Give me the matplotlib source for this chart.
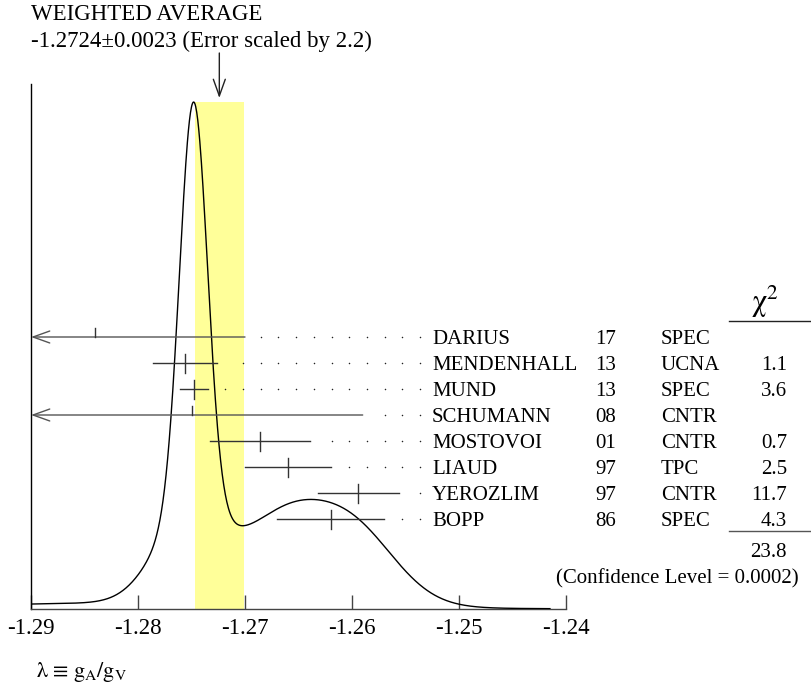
import numpy as np
import matplotlib.pyplot as plt
from matplotlib.lines import Line2D

plt.rcParams['font.family'] = ['Liberation Serif', 'DejaVu Serif']
plt.rcParams['mathtext.fontset'] = 'stix'

# mesures
names = ["DARIUS", "MENDENHALL", "MUND", "SCHUMANN", "MOSTOVOI", "LIAUD", "YEROZLIM", "BOPP"]
years = ["17", "13", "13", "08", "01", "97", "97", "86"]
techs = ["SPEC", "UCNA", "SPEC", "CNTR", "CNTR", "TPC", "CNTR", "SPEC"]
values = [-1.2840, -1.2756, -1.2748, -1.2750, -1.2686, -1.2660, -1.2594, -1.2620]
errors = [0.0140, 0.0030, 0.0013, 0.0160, 0.0047, 0.0040, 0.0038, 0.0050]
chi2 = ["", "1.1", "3.6", "", "0.7", "2.5", "11.7", "4.3"]
chi2_total = "23.8"
conf_level = "0.0002"
avg = -1.2724
avg_err = 0.0023
scale_factor = 2.2
xticks = [-1.29, -1.28, -1.27, -1.26, -1.25, -1.24]

W, H = 812, 689
fig = plt.figure(figsize=(W / 100, H / 100), dpi=100)


def fx(x):
    return x / W


def fy(y):
    return 1 - y / H


# axes: x 31..566 px, y 84..609 px
ax = fig.add_axes([fx(31), fy(609), 535 / W, 525 / H])
ax.set_xlim(-1.29, -1.24)
ax.set_ylim(0, 525 / 507)
px = 507  # pixels par unité y


def row_y(i):
    return (609 - (337 + 26 * i)) / px


# ideogramme : chaque mesure = gaussienne d'aire 1/sigma
xs = np.linspace(-1.29, -1.2415, 1000)
ideo = np.zeros_like(xs)
for v, e in zip(values, errors):
    ideo += np.exp(-0.5 * ((xs - v) / e) ** 2) / e ** 2
ideo /= ideo.max()

ax.fill_between([avg - avg_err, avg + avg_err], 0, 1, color='#ffff99', lw=0, zorder=1)
ax.plot(xs, ideo, color='black', lw=1.0, zorder=3)

# fleche de la moyenne
ax.annotate('', xy=(avg, (609 - 98) / px), xytext=(avg, (609 - 53) / px),
            arrowprops=dict(arrowstyle='->,head_length=1.2,head_width=0.43', lw=1.0,
                            color='#222', shrinkA=0, shrinkB=0),
            annotation_clip=False)

# barres d'erreur + pointillés
dot_end = -1.29 + 389 / 10700
dot_step = 17.7 / 10700
bar_col = '#333'
for i, (v, e) in enumerate(zip(values, errors)):
    y = row_y(i)
    right = v + e
    left = v - e
    if left < -1.29:
        ax.annotate('', xy=(-1.29, y), xytext=(right, y),
                    arrowprops=dict(arrowstyle='->,head_length=1.2,head_width=0.43', lw=1.0,
                                    color='#555', shrinkA=0, shrinkB=0), zorder=4)
        ax.plot([v, v], [y, y + 9 / px], color=bar_col, lw=1.0, zorder=4)
    else:
        ax.plot([left, right], [y, y], color=bar_col, lw=1.0, zorder=4)
        ax.plot([v, v], [y - 9.5 / px, y + 9.5 / px], color=bar_col, lw=1.0, zorder=4)
    dots = []
    k = 0
    while dot_end - k * dot_step > right + 0.001:
        dots.append(dot_end - k * dot_step)
        k += 1
    ax.scatter(dots, [y] * len(dots), s=1.2, color='#222', lw=0, zorder=4)

# axes
for s in ['top', 'right']:
    ax.spines[s].set_visible(False)
ax.spines['left'].set_color('black')
ax.spines['left'].set_linewidth(1.0)
ax.spines['bottom'].set_color('#444')
ax.spines['bottom'].set_linewidth(1.0)
ax.set_xticks(xticks)
ax.set_xticklabels([f"{t:.2f}" for t in xticks])
ax.tick_params(axis='x', direction='in', length=10, width=1.0, color='#444',
               labelsize=16.5, pad=6.5)
ax.set_yticks([])
ax.patch.set_alpha(0)

# titre
fig.text(fx(31), fy(20), "WEIGHTED AVERAGE", fontsize=16.5, va='baseline')
fig.text(fx(31), fy(47), f"{avg:.4f}\u00b1{avg_err:.4f} (Error scaled by {scale_factor})",
         fontsize=16.5, va='baseline')

# tableau
for i in range(len(names)):
    yb = fy(344 + 26 * i)
    fig.text(fx(432), yb, names[i], fontsize=15, va='baseline')
    fig.text(fx(595), yb, years[i], fontsize=15, va='baseline')
    fig.text(fx(661), yb, techs[i], fontsize=15, va='baseline')
    fig.text(fx(787), yb, chi2[i], fontsize=15, va='baseline', ha='right')

fig.text(fx(765), fy(311), r'$\mathrm{χ}^2$', fontsize=22, va='baseline', ha='center')
fig.add_artist(Line2D([fx(729), fx(812)], [fy(321), fy(321)], color='#222', lw=1.0))
fig.add_artist(Line2D([fx(729), fx(812)], [fy(531), fy(531)], color='#555', lw=1.0))
fig.text(fx(787), fy(557), chi2_total, fontsize=15, va='baseline', ha='right')
fig.text(fx(799), fy(583), f"(Confidence Level = {conf_level})", fontsize=15,
         va='baseline', ha='right')

fig.text(fx(36), fy(677), r'$\mathrm{λ\ ≡\ g_A/g_V}$', fontsize=16, va='baseline')

fig.savefig("out.png", dpi=100)
